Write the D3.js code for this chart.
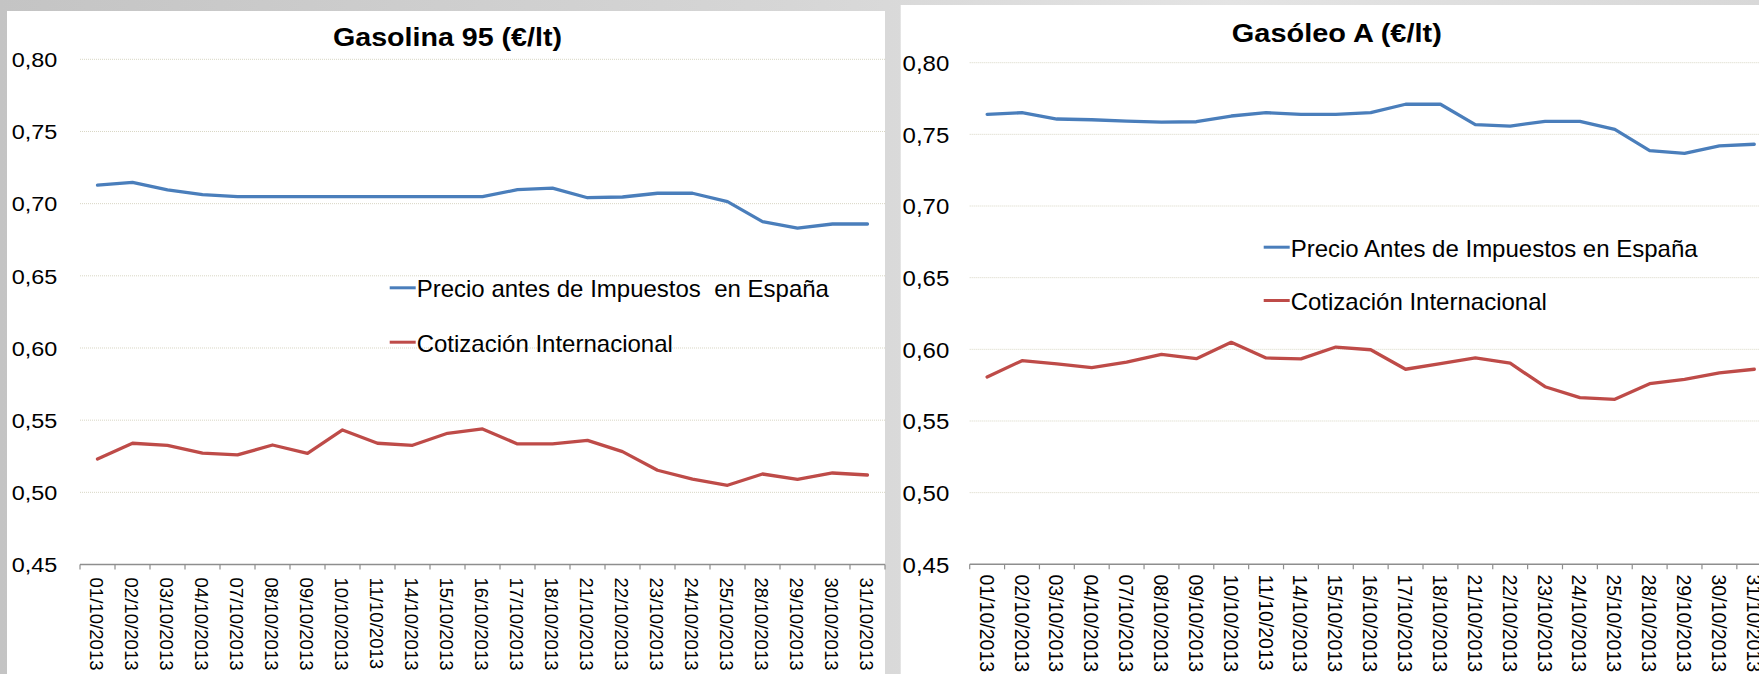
<!DOCTYPE html>
<html>
<head>
<meta charset="utf-8">
<script src="https://cdn.jsdelivr.net/npm/d3@7"></script>
<style>
html,body{margin:0;padding:0;overflow:hidden;background:#d4d4d4;}
svg{display:block;font-family:"Liberation Sans",Arial,sans-serif;}
text{white-space:pre;}
</style>
</head>
<body>
<svg id="chart" width="1759" height="674"></svg>
<script>
// ---------- DATA ----------
const categories = ["01/10/2013","02/10/2013","03/10/2013","04/10/2013","07/10/2013","08/10/2013","09/10/2013","10/10/2013","11/10/2013","14/10/2013","15/10/2013","16/10/2013","17/10/2013","18/10/2013","21/10/2013","22/10/2013","23/10/2013","24/10/2013","25/10/2013","28/10/2013","29/10/2013","30/10/2013","31/10/2013"];
const yTicks = [0.45,0.50,0.55,0.60,0.65,0.70,0.75,0.80];

const gasolinaTitle = "Gasolina 95 (€/lt)";
const gasolinaSeriesNames = ["Precio antes de Impuestos  en España","Cotización Internacional"];
const gasolinaPrecio = [0.7129,0.7148,0.7095,0.7062,0.7048,0.7048,0.7048,0.7048,0.7048,0.7048,0.7048,0.7048,0.7097,0.7108,0.7041,0.7046,0.7072,0.7072,0.7014,0.6875,0.6831,0.6859,0.6859];
const gasolinaCotizacion = [0.5231,0.5340,0.5326,0.5272,0.5259,0.5328,0.5270,0.5432,0.5340,0.5326,0.5409,0.5439,0.5335,0.5335,0.5360,0.5282,0.5153,0.5092,0.5049,0.5127,0.5090,0.5134,0.5120];

const gasoleoTitle = "Gasóleo A (€/lt)";
const gasoleoSeriesNames = ["Precio Antes de Impuestos en España","Cotización Internacional"];
const gasoleoPrecio = [0.7640,0.7651,0.7607,0.7602,0.7593,0.7586,0.7588,0.7628,0.7651,0.7640,0.7640,0.7651,0.7710,0.7710,0.7568,0.7558,0.7591,0.7591,0.7535,0.7386,0.7368,0.7419,0.7431];
const gasoleoCotizacion = [0.5807,0.5921,0.5898,0.5872,0.5910,0.5965,0.5935,0.6049,0.5940,0.5933,0.6016,0.5997,0.5861,0.5900,0.5940,0.5903,0.5739,0.5663,0.5651,0.5760,0.5791,0.5835,0.5861];

// ---------- STYLE / LAYOUT ----------
const colors = ["#4a7ebb","#be4b48"];
const svg = d3.select("#chart");

const defs = svg.append("defs");
const grad = defs.append("linearGradient").attr("id","bg").attr("x1","0").attr("x2","1").attr("y1","0").attr("y2","0");
grad.append("stop").attr("offset","0").attr("stop-color","#c4c4c4");
grad.append("stop").attr("offset","0.45").attr("stop-color","#d6d6d6");
grad.append("stop").attr("offset","0.7").attr("stop-color","#e4e4e4");
grad.append("stop").attr("offset","1").attr("stop-color","#d8d8d8");
svg.append("rect").attr("x",0).attr("y",0).attr("width",1759).attr("height",674).attr("fill","url(#bg)");

const fmt = v => d3.format(".2f")(v).replace(".", ",");

function drawPanel(cfg){
  const g = svg.append("g");
  g.append("rect").attr("x",cfg.px).attr("y",cfg.py).attr("width",cfg.pw).attr("height",674-cfg.py).attr("fill","#ffffff");

  const x = d3.scaleBand().domain(categories).range([cfg.x0,cfg.x1]);
  const y = d3.scaleLinear().domain([0.45,0.80]).range([cfg.yBot,cfg.yTop]);
  const bw = x.bandwidth();

  // gridlines
  g.selectAll("line.grid").data(yTicks.filter(t=>t>0.45)).join("line")
    .attr("class","grid")
    .attr("x1",cfg.x0).attr("x2",cfg.x1)
    .attr("y1",d=>y(d)).attr("y2",d=>y(d))
    .attr("stroke","#d8d6c4").attr("stroke-width",1).attr("stroke-dasharray","1,1");

  // y labels
  g.selectAll("text.ylab").data(yTicks).join("text")
    .attr("class","ylab")
    .attr("x",cfg.yLabRight).attr("y",d=>y(d)+cfg.yLabDy)
    .attr("text-anchor","end")
    .attr("font-size",cfg.yLabSize)
    .attr("textLength",cfg.yLabLen).attr("lengthAdjust","spacingAndGlyphs")
    .attr("fill","#000")
    .text(fmt);

  // x axis line
  g.append("line").attr("x1",cfg.x0).attr("x2",cfg.x1)
    .attr("y1",y(0.45)).attr("y2",y(0.45))
    .attr("stroke","#8e8e8e").attr("stroke-width",1.5);
  const bounds = categories.map(c=>x(c)).concat([x(categories[categories.length-1])+bw]);
  g.selectAll("line.tick").data(bounds).join("line")
    .attr("class","tick")
    .attr("x1",d=>d).attr("x2",d=>d)
    .attr("y1",y(0.45)).attr("y2",y(0.45)+5)
    .attr("stroke","#8e8e8e").attr("stroke-width",1.2);

  // x labels
  g.selectAll("text.xlab").data(categories).join("text")
    .attr("class","xlab")
    .attr("transform",d=>`translate(${x(d)+bw/2-7.5},${cfg.xLabTop}) rotate(90)`)
    .attr("x",0).attr("y",0)
    .attr("font-size",cfg.xLabSize)
    .attr("fill","#000")
    .text(d=>d);

  // lines
  const line = d3.line().x((d,i)=>x(categories[i])+bw/2).y(d=>y(d));
  cfg.series.forEach((s,i)=>{
    g.append("path").datum(s).attr("d",line)
      .attr("fill","none").attr("stroke",colors[i]).attr("stroke-width",3.3)
      .attr("stroke-linejoin","round").attr("stroke-linecap","round");
  });

  // title
  g.append("text").attr("x",cfg.titleX).attr("y",cfg.titleY)
    .attr("text-anchor","middle").attr("font-weight","bold")
    .attr("font-size",cfg.titleSize)
    .attr("textLength",cfg.titleLen).attr("lengthAdjust","spacingAndGlyphs")
    .attr("fill","#000").text(cfg.title);

  // legend
  cfg.names.forEach((n,i)=>{
    const by = cfg.legY[i];
    g.append("line").attr("x1",cfg.legX-27).attr("x2",cfg.legX-1)
      .attr("y1",by-9.5).attr("y2",by-9.5)
      .attr("stroke",colors[i]).attr("stroke-width",3);
    g.append("text").attr("x",cfg.legX).attr("y",by)
      .attr("font-size",24).attr("fill","#000").text(n);
  });
}

drawPanel({
  px:7, py:11, pw:878,
  x0:80, x1:885, yTop:59.3, yBot:564.5,
  yLabRight:57.4, yLabDy:7.8, yLabSize:20, yLabLen:45.6,
  xLabTop:577.5, xLabSize:18.6,
  series:[gasolinaPrecio,gasolinaCotizacion],
  title:gasolinaTitle, titleX:447.5, titleY:46.3, titleSize:26.5, titleLen:229,
  names:gasolinaSeriesNames, legX:416.7, legY:[297.3,351.7]
});

drawPanel({
  px:900.7, py:5, pw:860,
  x0:969.7, x1:969.7+23*34.87, yTop:62.7, yBot:564.3,
  yLabRight:949.3, yLabDy:8.3, yLabSize:22, yLabLen:46.7,
  xLabTop:574.5, xLabSize:19.5,
  series:[gasoleoPrecio,gasoleoCotizacion],
  title:gasoleoTitle, titleX:1336.8, titleY:41.7, titleSize:25.6, titleLen:210,
  names:gasoleoSeriesNames, legX:1290.7, legY:[256.7,310]
});
</script>
</body>
</html>
